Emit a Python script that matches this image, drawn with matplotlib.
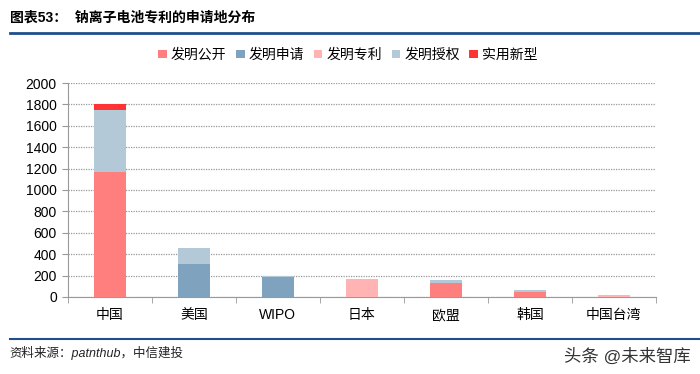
import matplotlib.pyplot as plt
import numpy as np

plt.rcParams['font.family'] = ['Liberation Sans', 'Noto Sans CJK SC', 'DejaVu Sans']

regions = ['中国', '美国', 'WIPO', '日本', '欧盟', '韩国', '中国台湾']
series_names = ['发明公开', '发明申请', '发明专利', '发明授权', '实用新型']
fmgk = [1170, 0, 0, 0, 130, 50, 0]      # 发明公开
fmsq = [0, 305, 188, 0, 0, 0, 0]        # 发明申请
fmzl = [0, 0, 0, 170, 0, 0, 22]         # 发明专利
fmsq2 = [580, 157, 5, 0, 25, 12, 0]     # 发明授权
syxx = [50, 0, 0, 0, 0, 0, 0]           # 实用新型
colors = ['#FF7F7F', '#7FA3BE', '#FFB3B3', '#B3C9D8', '#FF3333']

fig = plt.figure(figsize=(7, 3.74), dpi=100)
ax = fig.add_axes([0.097, 0.206, 0.84, 0.572])

x = np.arange(len(regions))
bottom = np.zeros(len(regions))
for name, vals, c in zip(series_names, [fmgk, fmsq, fmzl, fmsq2, syxx], colors):
    ax.bar(x, vals, 0.39, bottom=bottom, color=c, label=name, zorder=3)
    bottom += np.array(vals)

ax.set_xlim(-0.5, len(regions) - 0.5)
ax.set_ylim(0, 2000)
ax.set_yticks(range(0, 2001, 200))
ax.set_xticks(x)
ax.set_xticklabels(regions, fontsize=10)
ax.set_xticks(np.arange(-0.5, len(regions)), minor=True)
ax.tick_params(axis='x', which='major', length=0, pad=8)
ax.tick_params(axis='x', which='minor', length=4, color='#999999', direction='out')
ax.tick_params(axis='y', length=4, color='#999999', labelsize=10, pad=4)
ax.grid(axis='y', color='#999999', linestyle=(0, (1, 1)), linewidth=0.9, zorder=0)
for s in ['top', 'right']:
    ax.spines[s].set_visible(False)
for s in ['left', 'bottom']:
    ax.spines[s].set_color('#999999')

ax.legend(loc='center', bbox_to_anchor=(0.497, 0.853), bbox_transform=fig.transFigure,
          ncol=5, frameon=False, fontsize=10, handlelength=0.6, handleheight=0.6,
          handletextpad=0.3, columnspacing=0.7)

# title and rules
fig.text(0.014, 0.952, '图表53：  钠离子电池专利的申请地分布', fontsize=10, fontweight='bold', va='center')
fig.add_artist(plt.Line2D([0.014, 1.0], [0.912, 0.912], color='#1F4E8C', linewidth=2))
fig.add_artist(plt.Line2D([0.014, 1.0], [0.094, 0.094], color='#1F4E8C', linewidth=1.5))
fig.text(0.014, 0.057, '资料来源：patnthub，中信建投', fontsize=9, style='italic',
         va='center', color='#222222')
fig.text(0.805, 0.047, '头条 @未来智库', fontsize=12.5, va='center', color='#333333')

fig.savefig('out.png', dpi=100)
